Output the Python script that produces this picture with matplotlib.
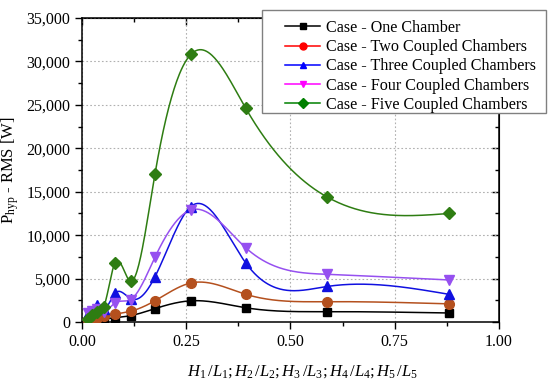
import numpy as np
import matplotlib
matplotlib.use("Agg")
import matplotlib.pyplot as plt
from matplotlib.lines import Line2D
from matplotlib.patches import Rectangle
from matplotlib.ticker import MultipleLocator, FuncFormatter

plt.rcParams['font.family'] = ['Liberation Serif', 'DejaVu Serif']
plt.rcParams['mathtext.fontset'] = 'custom'
plt.rcParams['mathtext.rm'] = 'Liberation Serif'
plt.rcParams['mathtext.it'] = 'Liberation Serif:italic'

# ---- data ----
ratio = [0.015, 0.023, 0.035, 0.052, 0.079, 0.117, 0.175, 0.261, 0.393, 0.588, 0.880]
one_chamber = [100, 150, 250, 350, 500, 750, 1550, 2450, 1650, 1200, 1050]
two_chambers = [200, 350, 500, 650, 900, 1250, 2450, 4500, 3200, 2350, 2100]
three_chambers = [900, 1300, 2000, 1500, 3300, 2700, 5200, 13300, 6800, 4100, 3200]
four_chambers = [1000, 1300, 1500, 1200, 2200, 2600, 7450, 12900, 8550, 5500, 4850]
five_chambers = [400, 800, 1200, 1700, 6800, 4700, 17000, 30800, 24600, 14400, 12500]

labels = ["Case - One Chamber", "Case - Two Coupled Chambers",
          "Case - Three Coupled Chambers", "Case - Four Coupled Chambers",
          "Case - Five Coupled Chambers"]
plot_colors = ['#000000', '#b4501e', '#1010e0', '#9650f0', '#2e7d12']
legend_colors = ['#000000', '#ff0000', '#0000ff', '#ff00ff', '#008000']
markers = ['s', 'o', '^', 'v', 'D']
msizes = [6, 7, 7, 7, 6]


def natural_spline(x, y, n=400):
    x = np.asarray(x, float)
    y = np.asarray(y, float)
    k = len(x)
    h = np.diff(x)
    A = np.zeros((k, k))
    b = np.zeros(k)
    A[0, 0] = 1
    A[-1, -1] = 1
    for i in range(1, k - 1):
        A[i, i - 1] = h[i - 1]
        A[i, i] = 2 * (h[i - 1] + h[i])
        A[i, i + 1] = h[i]
        b[i] = 6 * ((y[i + 1] - y[i]) / h[i] - (y[i] - y[i - 1]) / h[i - 1])
    M = np.linalg.solve(A, b)
    xs = np.linspace(x[0], x[-1], n)
    idx = np.clip(np.searchsorted(x, xs) - 1, 0, k - 2)
    x0, x1 = x[idx], x[idx + 1]
    hh = x1 - x0
    t0 = x1 - xs
    t1 = xs - x0
    ys = (M[idx] * t0 ** 3 / (6 * hh) + M[idx + 1] * t1 ** 3 / (6 * hh)
          + (y[idx] / hh - M[idx] * hh / 6) * t0
          + (y[idx + 1] / hh - M[idx + 1] * hh / 6) * t1)
    return xs, ys


fig = plt.figure(figsize=(5.5, 3.83), dpi=100)
ax = fig.add_axes([0.149, 0.159, 0.758, 0.794])

series = [one_chamber, two_chambers, three_chambers, four_chambers, five_chambers]
for vals, c, m, ms in zip(series, plot_colors, markers, msizes):
    xs, ys = natural_spline(ratio, vals)
    ax.plot(xs, ys, color=c, lw=1.1, zorder=3)
    ax.plot(ratio, vals, ls='none', marker=m, color=c, ms=ms, zorder=4)

ax.set_xlim(0, 1.0)
ax.set_ylim(0, 35000)
ax.xaxis.set_major_locator(MultipleLocator(0.25))
ax.xaxis.set_minor_locator(MultipleLocator(0.125))
ax.yaxis.set_major_locator(MultipleLocator(5000))
ax.yaxis.set_minor_locator(MultipleLocator(2500))
ax.xaxis.set_major_formatter(FuncFormatter(lambda v, p: f"{v:.2f}"))
ax.yaxis.set_major_formatter(FuncFormatter(lambda v, p: f"{int(v):,}"))
ax.grid(True, which='major', color='#b0b0b0', ls=(0, (1.5, 2)), lw=0.8)
ax.set_axisbelow(True)

ax.tick_params(axis='both', which='both', labelsize=11.5, direction='out',
               top=False, right=False)
ax.tick_params(which='major', length=5, width=1)
ax.tick_params(which='minor', length=3, width=1)
for sp in ax.spines.values():
    sp.set_linewidth(1.1)

# mirrored inward ticks on top / right
axt = ax.secondary_xaxis('top')
axt.xaxis.set_major_locator(MultipleLocator(0.25))
axt.xaxis.set_minor_locator(MultipleLocator(0.125))
axt.tick_params(which='both', direction='in', labeltop=False, width=1)
axt.tick_params(which='major', length=5)
axt.tick_params(which='minor', length=3)
axr = ax.secondary_yaxis('right')
axr.yaxis.set_major_locator(MultipleLocator(5000))
axr.yaxis.set_minor_locator(MultipleLocator(2500))
axr.tick_params(which='both', direction='in', labelright=False, width=1)
axr.tick_params(which='major', length=5)
axr.tick_params(which='minor', length=3)

ax.set_ylabel(r"P$_{\mathrm{hyp}}$ - RMS [W]", fontsize=12, labelpad=4)
ax.set_xlabel(r"$H_1\,/L_1;H_2\,/L_2;H_3\,/L_3;H_4\,/L_4;H_5\,/L_5$",
              fontsize=12, labelpad=9)
ax.xaxis.set_label_coords(0.53, -0.135)

# legend frame drawn as a figure rectangle
fig.patches.append(Rectangle((0.4764, 0.705), 0.5164, 0.269, transform=fig.transFigure,
                             facecolor='white', edgecolor='#808080', lw=1.0,
                             zorder=5))
handles = [Line2D([], [], color=c, marker=m, ms=5, lw=1.1)
           for c, m in zip(legend_colors, markers)]
leg = fig.legend(handles, labels, loc='upper left',
                 bbox_to_anchor=(285 / 550, 1 - 20 / 383),
                 prop={'family': 'Liberation Serif', 'size': 11.6}, frameon=False,
                 handlelength=2.2, handletextpad=0.35, labelspacing=0.2,
                 borderpad=0, borderaxespad=0)
leg.set_zorder(6)

fig.savefig("out.png", dpi=100)
